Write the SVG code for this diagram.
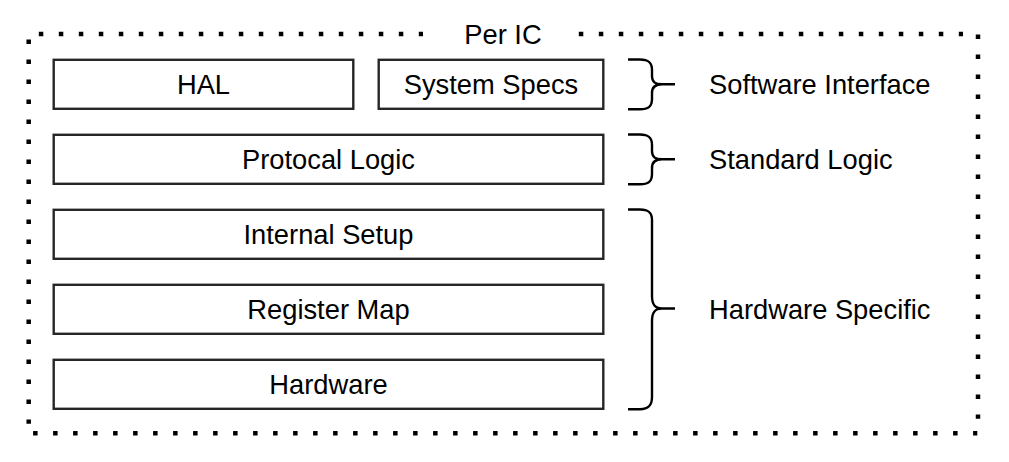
<svg xmlns="http://www.w3.org/2000/svg" width="1009" height="462" viewBox="0 0 1009 462">
<style>
.box{fill:#fff;stroke:#262626;stroke-width:2.4}
.t{font-family:"Liberation Sans",Arial,sans-serif;font-size:27.3px;fill:#000}
.c{text-anchor:middle}
.dot{stroke:#000;stroke-width:4.5;stroke-dasharray:4.5 15.5;fill:none}
.brace{fill:none;stroke:#000;stroke-width:2.4}
</style>
<rect width="1009" height="462" fill="#fff"/>
<g id="container">
<line class="dot" x1="38.8" y1="34" x2="423" y2="34"/>
<line class="dot" x1="578.8" y1="34" x2="963" y2="34"/>
<line class="dot" x1="978" y1="34.6" x2="978" y2="418.8"/>
<line class="dot" x1="33.1" y1="433.3" x2="977.3" y2="433.3"/>
<line class="dot" x1="28.7" y1="39.5" x2="28.7" y2="423.7"/>
<text class="t c" x="503" y="43.5">Per IC</text>
</g>
<g id="hal"><rect class="box" x="53.7" y="59.8" width="299.6" height="49"/><text class="t c" x="203.5" y="94">HAL</text></g>
<g id="system-specs"><rect class="box" x="378.7" y="59.8" width="224.6" height="49"/><text class="t c" x="491" y="94">System Specs</text></g>
<g id="protocol-logic"><rect class="box" x="53.7" y="134.8" width="549.6" height="49"/><text class="t c" x="328.5" y="169">Protocal Logic</text></g>
<g id="internal-setup"><rect class="box" x="53.7" y="209.8" width="549.6" height="49"/><text class="t c" x="328.5" y="244">Internal Setup</text></g>
<g id="register-map"><rect class="box" x="53.7" y="284.8" width="549.6" height="49"/><text class="t c" x="328.5" y="319">Register Map</text></g>
<g id="hardware"><rect class="box" x="53.7" y="359.8" width="549.6" height="49"/><text class="t c" x="328.5" y="394">Hardware</text></g>
<g id="connectors">
<path class="brace" d="M628,59.5 L640,59.5 C648,59.5 652,62 652,70 L652,76 C652,82 655,84.3 662,84.3 L675,84.3 M662,84.3 C655,84.3 652,87 652,93 L652,99 C652,107 648,109.2 640,109.2 L628,109.2"/>
<path class="brace" d="M628,134.5 L640,134.5 C648,134.5 652,137 652,145 L652,151 C652,157 655,159.3 662,159.3 L675,159.3 M662,159.3 C655,159.3 652,162 652,168 L652,174 C652,182 648,184.2 640,184.2 L628,184.2"/>
<path class="brace" d="M628,209.5 L640,209.5 C648,209.5 652,212 652,220 L652,296 C652,305 655,308.5 662,308.5 L675,308.5 M662,308.5 C655,308.5 652,312 652,321 L652,397 C652,406 648,409.2 640,409.2 L628,409.2"/>
</g>
<g id="labels">
<text class="t" x="709" y="94">Software Interface</text>
<text class="t" x="709" y="169">Standard Logic</text>
<text class="t" x="709" y="318.5">Hardware Specific</text>
</g>
</svg>
